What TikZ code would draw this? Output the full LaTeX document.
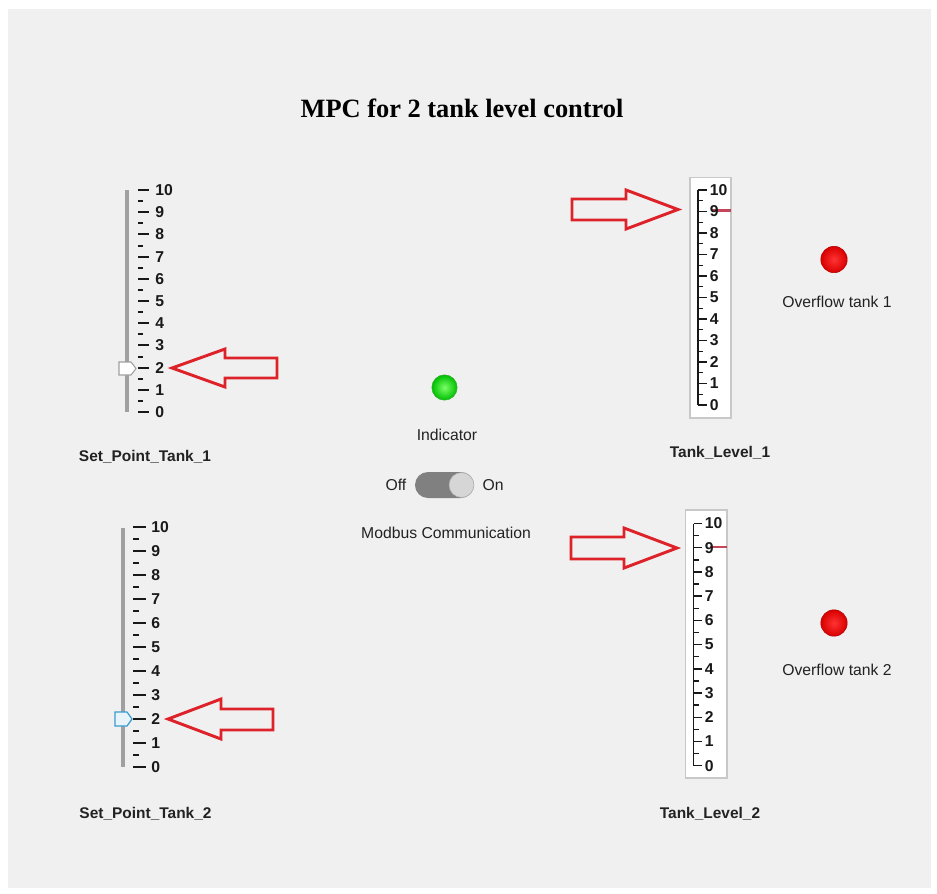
\documentclass[tikz,border=0pt]{standalone}
\usepackage{fontspec}
\setmainfont{Liberation Sans}
\newfontfamily\titlefont{Liberation Serif}
\definecolor{panelgray}{RGB}{240,240,240}
\definecolor{trackgray}{RGB}{160,160,160}
\definecolor{boxedge}{RGB}{200,200,200}
\definecolor{arrowred}{RGB}{222,34,42}
\definecolor{levelred}{RGB}{196,70,90}
\definecolor{txtdark}{RGB}{34,34,34}
\definecolor{thumbblue}{RGB}{58,155,208}
\definecolor{thumbfill}{RGB}{232,244,250}
\definecolor{switchgray}{RGB}{128,128,128}
\definecolor{knobgray}{RGB}{214,214,214}
\begin{document}
\begin{tikzpicture}[x=0.75pt,y=-0.75pt,
  track/.style={draw=trackgray,line width=3pt},
  majortick/.style={draw=black!90,line width=1.5pt},
  minortick/.style={draw=black!90,line width=1.5pt},
  gaugeaxis/.style={draw=black!90,line width=1.3pt},
  gaugetick/.style={draw=black!90,line width=1.1pt},
  scalelbl/.style={font=\fontsize{11.8}{13}\selectfont\bfseries,anchor=west,inner sep=0pt,text=black!90},
  caption/.style={font=\fontsize{11.6}{14}\selectfont\bfseries,inner sep=0pt,text=txtdark},
  plainlbl/.style={font=\fontsize{11.8}{14}\selectfont,inner sep=0pt,text=txtdark},
  gaugebox/.style={draw=boxedge,fill=white,line width=0.8pt},
  levelmark/.style={draw=levelred,line width=1.6pt},
  blockarrow/.style={draw=arrowred,line width=2.2pt,line join=miter},
  greenled/.style={circle,minimum size=19pt,inner sep=0pt,draw=green!60!black!80,line width=0.4pt,inner color=green!55!white!90!lime,outer color=green!75!black},
  redled/.style={circle,minimum size=19.8pt,inner sep=0pt,draw=red!70!black,line width=0.4pt,inner color=red!80!white,outer color=red!85!black}]

% page and panel
\useasboundingbox (0,0) rectangle (937,893);
\fill[white] (0,0) rectangle (937,893);
\fill[panelgray] (8,9) rectangle (931,888);

% title
\node[font=\titlefont\bfseries\fontsize{19.8}{22}\selectfont,inner sep=0pt,text=black] (title) at (462,108) {MPC for 2 tank level control};

% ---- set point slider 1 ----
\draw[track] (127,190) -- (127,412);
\foreach \v in {0,...,10} {
  \draw[majortick] (138,{412-22.2*\v}) -- (149,{412-22.2*\v});
  \node[scalelbl] (sa-\v) at (155,{412-22.2*\v}) {\v};
}
\foreach \v in {0,...,9} {
  \draw[minortick] (138,{412-22.2*(\v+0.5)}) -- (143,{412-22.2*(\v+0.5)});
}
\draw[draw=trackgray,fill=white,line width=0.8pt]
  (119,362) -- (131,362) -- (136,368.5) -- (131,375) -- (119,375) -- cycle;
\node[caption] (sp1) at (145,457) {Set\_Point\_Tank\_1};

% ---- set point slider 2 ----
\draw[track] (123,528) -- (123,767);
\foreach \v in {0,...,10} {
  \draw[majortick] (133,{767-24*\v}) -- (146,{767-24*\v});
  \node[scalelbl] (sb-\v) at (151,{767-24*\v}) {\v};
}
\foreach \v in {0,...,9} {
  \draw[minortick] (133,{767-24*(\v+0.5)}) -- (139,{767-24*(\v+0.5)});
}
\draw[draw=thumbblue,fill=thumbfill,line width=0.9pt]
  (115,712) -- (127,712) -- (132,719) -- (127,726) -- (115,726) -- cycle;
\node[caption] (sp2) at (145.5,814) {Set\_Point\_Tank\_2};

% ---- tank level gauge 1 ----
\draw[gaugebox] (690,177.5) rectangle (731,418);
\draw[levelmark] (712,210.5) -- (730.5,210.5);
\draw[gaugeaxis] (698,190) -- (698,405);
\foreach \v in {0,...,10} {
  \draw[gaugetick] (698,{405-21.5*\v}) -- (707,{405-21.5*\v});
  \node[scalelbl] (ga-\v) at (709.5,{405-21.5*\v}) {\v};
}
\foreach \v in {0,...,9} {
  \draw[gaugetick] (698,{405-21.5*(\v+0.5)}) -- (703,{405-21.5*(\v+0.5)});
}
\node[caption] (tl1) at (720,453) {Tank\_Level\_1};

% ---- tank level gauge 2 ----
\draw[gaugebox] (685.5,510) rectangle (727,778);
\draw[levelmark] (710,547) -- (726.5,547);
\draw[gaugeaxis] (693.5,523.5) -- (693.5,765.7);
\foreach \v in {0,...,10} {
  \draw[gaugetick] (693.5,{765.7-24.22*\v}) -- (702,{765.7-24.22*\v});
  \node[scalelbl] (gb-\v) at (704.5,{765.7-24.22*\v}) {\v};
}
\foreach \v in {0,...,9} {
  \draw[gaugetick] (693.5,{765.7-24.22*(\v+0.5)}) -- (698.5,{765.7-24.22*(\v+0.5)});
}
\node[caption] (tl2) at (710,814) {Tank\_Level\_2};

% ---- centre column: indicator and switch ----
\node[greenled] (ind) at (444.5,387.5) {};
\node[plainlbl] (indlbl) at (447,435) {Indicator};
\node[plainlbl] (off) at (396,485) {Off};
\node[plainlbl] (on) at (493,485) {On};
\fill[switchgray,rounded corners=9.7pt] (415,472) rectangle (474,498);
\node[circle,minimum size=18.6pt,inner sep=0pt,fill=knobgray,draw=gray!60,line width=0.4pt] (knob) at (461.5,485) {};
\node[plainlbl] (modbus) at (446,533) {Modbus Communication};

% ---- overflow lamps ----
\node[redled] (ov1) at (834,259.5) {};
\node[plainlbl] (ov1lbl) at (837,302) {Overflow tank 1};
\node[redled] (ov2) at (834,623) {};
\node[plainlbl] (ov2lbl) at (837,669.5) {Overflow tank 2};

% ---- hollow red pointer arrows ----
\draw[blockarrow] (172,368) -- (225,349) -- (225,358) -- (277,358) -- (277,378)
  -- (225,378) -- (225,387) -- cycle;
\draw[blockarrow] (168,719) -- (221,699) -- (221,709) -- (273,709) -- (273,730)
  -- (221,730) -- (221,739) -- cycle;
\draw[blockarrow] (572,199) -- (626,199) -- (626,190) -- (678,209.5) -- (626,229)
  -- (626,220) -- (572,220) -- cycle;
\draw[blockarrow] (571,537) -- (624,537) -- (624,528) -- (677,548) -- (624,568)
  -- (624,559) -- (571,559) -- cycle;
\end{tikzpicture}
\end{document}
